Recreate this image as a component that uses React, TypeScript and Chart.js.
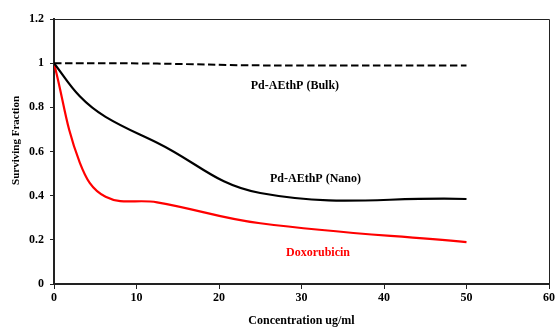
import React, { useEffect, useRef } from "react";
import { Chart, registerables } from "chart.js";

Chart.register(...registerables);

const concentrations = [0, 3.125, 6.25, 12.5, 25, 50];
const bulkY = [1.0, 1.0, 1.0, 0.998, 0.99, 0.99];
const nanoY = [1.0, 0.85, 0.757, 0.64, 0.412, 0.385];
const doxoY = [1.0, 0.55, 0.395, 0.37, 0.275, 0.19];

const seriesNames = ["Pd-AEthP (Bulk)", "Pd-AEthP (Nano)", "Doxorubicin"];
const labelX = [29.2, 31.7, 32.0];
const labelY = [0.895, 0.475, 0.14];
const labelColors = ["#000000", "#000000", "#ff0000"];

const xTitle = "Concentration ug/ml";
const yTitle = "Surviving Fraction";
const yTitleCenter = 0.65;

const FONT = "'Liberation Serif', 'Times New Roman', serif";

function pts(xs: number[], ys: number[]) {
  return xs.map((x, i) => ({ x, y: ys[i] }));
}

export default function App() {
  const ref = useRef<HTMLCanvasElement | null>(null);
  useEffect(() => {
    if (!ref.current) return;
    const framePlugin = {
      id: "frameAndLabels",
      afterDatasetsDraw(chart: any) {
        const { ctx, chartArea, scales } = chart;
        ctx.save();
        ctx.strokeStyle = "#222";
        ctx.lineWidth = 1;
        ctx.beginPath();
        ctx.moveTo(chartArea.left, chartArea.top + 0.5);
        ctx.lineTo(chartArea.right + 0.5, chartArea.top + 0.5);
        ctx.lineTo(chartArea.right + 0.5, chartArea.bottom);
        ctx.stroke();
        ctx.font = `bold 12px ${FONT}`;
        ctx.textAlign = "center";
        ctx.textBaseline = "middle";
        seriesNames.forEach((name, i) => {
          ctx.fillStyle = labelColors[i];
          ctx.fillText(name, scales.x.getPixelForValue(labelX[i]), scales.y.getPixelForValue(labelY[i]));
        });
        ctx.translate(16, scales.y.getPixelForValue(yTitleCenter));
        ctx.rotate(-Math.PI / 2);
        ctx.fillStyle = "#000";
        ctx.font = `bold 11px ${FONT}`;
        ctx.fillText(yTitle, 0, 0);
        ctx.restore();
      },
    };
    const chart = new Chart(ref.current, {
      type: "line",
      data: {
        datasets: [
          {
            label: seriesNames[0],
            data: pts(concentrations, bulkY),
            borderColor: "#000",
            borderWidth: 2,
            borderDash: [7.5, 3.5],
            pointRadius: 0,
            tension: 0.4,
          },
          {
            label: seriesNames[1],
            data: pts(concentrations, nanoY),
            borderColor: "#000",
            borderWidth: 2.2,
            pointRadius: 0,
            tension: 0.4,
          },
          {
            label: seriesNames[2],
            data: pts(concentrations, doxoY),
            borderColor: "#ff0000",
            borderWidth: 2.2,
            pointRadius: 0,
            tension: 0.4,
          },
        ],
      },
      options: {
        animation: false,
        responsive: false,
        layout: { padding: { top: 19, right: 6, left: 0, bottom: 0 } },
        plugins: { legend: { display: false }, tooltip: { enabled: false } },
        scales: {
          x: {
            type: "linear",
            min: 0,
            max: 60,
            afterFit: (s: any) => { s.height = 43; s.paddingLeft = 0; s.paddingRight = 0; },
            ticks: {
              stepSize: 10,
              color: "#000",
              font: { family: FONT, size: 12, weight: "bold" },
              padding: 2,
              maxRotation: 0,
            },
            grid: { drawOnChartArea: false, drawTicks: true, tickLength: 5, color: "#222" },
            border: { color: "#222", width: 2 },
            title: {
              display: true,
              text: xTitle,
              color: "#000",
              font: { family: FONT, size: 12, weight: "bold", lineHeight: 1 },
              padding: { top: 0, bottom: 0 },
            },
          },
          y: {
            type: "linear",
            min: 0,
            max: 1.2,
            afterFit: (s: any) => { s.width = 54; s.paddingTop = 0; s.paddingBottom = 0; },
            ticks: {
              stepSize: 0.2,
              color: "#000",
              font: { family: FONT, size: 12, weight: "bold" },
              padding: 6,
              callback: (v: any) => String(Math.round(Number(v) * 10) / 10),
            },
            grid: { drawOnChartArea: false, drawTicks: true, tickLength: 4, color: "#222" },
            border: { color: "#222", width: 2 },
          },
        },
      },
      plugins: [framePlugin],
    } as any);
    return () => chart.destroy();
  }, []);
  return (
    <div style={{ position: "absolute", left: 0, top: 0, width: 555, height: 327, background: "#fff" }}>
      <canvas ref={ref} width={555} height={327} />
    </div>
  );
}
